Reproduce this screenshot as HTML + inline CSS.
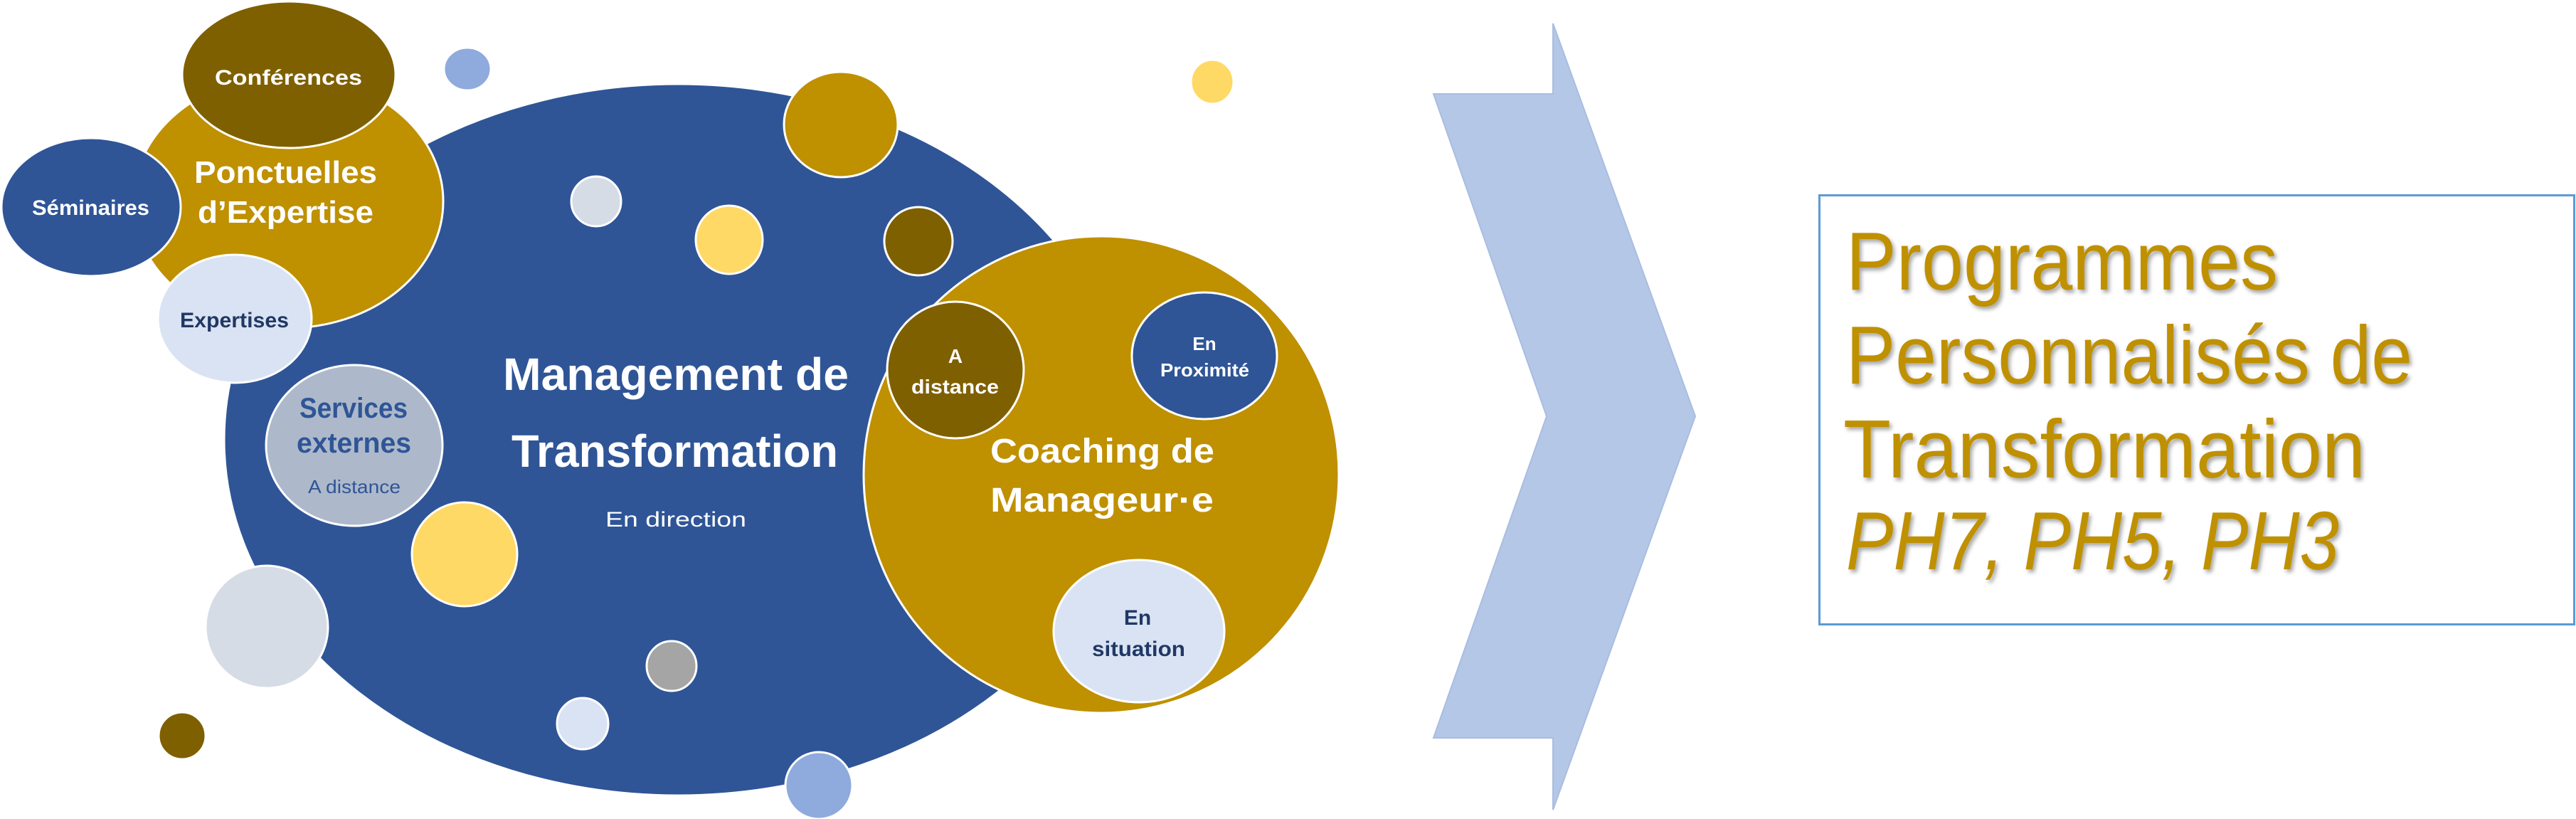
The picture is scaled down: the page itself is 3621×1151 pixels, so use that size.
<!DOCTYPE html>
<html><head><meta charset="utf-8"><style>
html,body{margin:0;padding:0;background:#fff;}
svg{display:block;}
text{font-family:"Liberation Sans",sans-serif;}
</style></head><body>
<svg width="3621" height="1151" viewBox="0 0 3621 1151" xmlns="http://www.w3.org/2000/svg">
<defs>
<filter id="sh" x="-5%" y="-5%" width="110%" height="120%"><feDropShadow dx="3" dy="4" stdDeviation="3" flood-color="#000" flood-opacity="0.35"/></filter>
</defs>
<g stroke="#fff" stroke-width="3">
<ellipse cx="953" cy="618" rx="638" ry="500" fill="#2F5597"/>
<ellipse cx="405" cy="283" rx="218" ry="178" fill="#BF9000"/>
<ellipse cx="406" cy="105" rx="150" ry="103" fill="#7F6000"/>
<ellipse cx="128" cy="291" rx="126" ry="97" fill="#2F5597"/>
<ellipse cx="330" cy="448" rx="108" ry="90" fill="#DAE3F3"/>
<ellipse cx="498" cy="626" rx="124" ry="113" fill="#ADB9CA"/>
<ellipse cx="653" cy="779" rx="74" ry="73" fill="#FFD966"/>
<ellipse cx="375" cy="881" rx="86" ry="86" fill="#D6DCE5"/>
<ellipse cx="256" cy="1034" rx="33" ry="33" fill="#7F6000"/>
<ellipse cx="657" cy="97" rx="33" ry="30" fill="#8FAADC"/>
<ellipse cx="1704" cy="115" rx="30" ry="31" fill="#FFD966"/>
<ellipse cx="1182" cy="175" rx="80" ry="74" fill="#BF9000"/>
<ellipse cx="838" cy="283" rx="35" ry="35" fill="#D6DCE5"/>
<ellipse cx="1025" cy="337" rx="47" ry="48" fill="#FFD966"/>
<ellipse cx="1291" cy="339" rx="48" ry="48" fill="#7F6000"/>
<ellipse cx="1548" cy="667" rx="334" ry="335" fill="#BF9000"/>
<ellipse cx="1343" cy="520" rx="96" ry="96" fill="#7F6000"/>
<ellipse cx="1693" cy="500" rx="102" ry="89" fill="#2F5597"/>
<ellipse cx="1601" cy="887" rx="120" ry="100" fill="#DAE3F3"/>
<ellipse cx="944" cy="936" rx="35" ry="35" fill="#A5A5A5"/>
<ellipse cx="819" cy="1017" rx="36" ry="36" fill="#DAE3F3"/>
<ellipse cx="1151" cy="1104" rx="47" ry="47" fill="#8FAADC"/>
</g>
<g font-weight="bold" fill="#fff">
<text x="707" y="548" font-size="64" textLength="486" lengthAdjust="spacingAndGlyphs">Management de</text>
<text x="719" y="656" font-size="64" textLength="459" lengthAdjust="spacingAndGlyphs">Transformation</text>
<text x="273" y="257" font-size="44" textLength="257" lengthAdjust="spacingAndGlyphs">Ponctuelles</text>
<text x="278" y="313" font-size="44" textLength="247" lengthAdjust="spacingAndGlyphs">d’Expertise</text>
<text x="302" y="119" font-size="30" textLength="207" lengthAdjust="spacingAndGlyphs">Conférences</text>
<text x="45" y="302" font-size="30" textLength="165" lengthAdjust="spacingAndGlyphs">Séminaires</text>
<text x="1343" y="510" font-size="28" text-anchor="middle">A</text>
<text x="1281" y="553" font-size="28" textLength="123" lengthAdjust="spacingAndGlyphs">distance</text>
<text x="1693" y="492" font-size="26" text-anchor="middle">En</text>
<text x="1631" y="529" font-size="26" textLength="125" lengthAdjust="spacingAndGlyphs">Proximité</text>
<text x="1392" y="650" font-size="48" textLength="315" lengthAdjust="spacingAndGlyphs">Coaching de</text>
<text x="1392" y="719" font-size="48" textLength="314" lengthAdjust="spacingAndGlyphs">Manageur·e</text>
</g>
<text x="851" y="740" font-size="30" fill="#fff" textLength="198" lengthAdjust="spacingAndGlyphs">En direction</text>
<g font-weight="bold" fill="#203864">
<text x="253" y="460" font-size="30" textLength="153" lengthAdjust="spacingAndGlyphs">Expertises</text>
<text x="1599" y="878" font-size="30" text-anchor="middle">En</text>
<text x="1535" y="922" font-size="30" textLength="131" lengthAdjust="spacingAndGlyphs">situation</text>
</g>
<g fill="#2F5597">
<text x="421" y="587" font-size="40" font-weight="bold" textLength="152" lengthAdjust="spacingAndGlyphs">Services</text>
<text x="417" y="636" font-size="40" font-weight="bold" textLength="161" lengthAdjust="spacingAndGlyphs">externes</text>
<text x="433" y="693" font-size="26" textLength="130" lengthAdjust="spacingAndGlyphs">A distance</text>
</g>
<polygon points="2183,33 2183,132 2015,132 2174,585 2015,1037 2183,1037 2183,1138 2383,585" fill="#B4C7E7" stroke="#a9bde0" stroke-width="2"/>
<rect x="2557.5" y="274.5" width="1061" height="603" fill="#fff" stroke="#5B9BD5" stroke-width="3"/>
<g fill="#BF9000" filter="url(#sh)" font-size="116">
<text x="2595" y="407" textLength="607" lengthAdjust="spacingAndGlyphs">Programmes</text>
<text x="2595" y="539" textLength="796" lengthAdjust="spacingAndGlyphs">Personnalisés de</text>
<text x="2591" y="671" textLength="734" lengthAdjust="spacingAndGlyphs">Transformation</text>
<text x="2595" y="800" font-style="italic" textLength="693" lengthAdjust="spacingAndGlyphs" filter="none">PH7, PH5, PH3</text>
</g>
</svg>
</body></html>
